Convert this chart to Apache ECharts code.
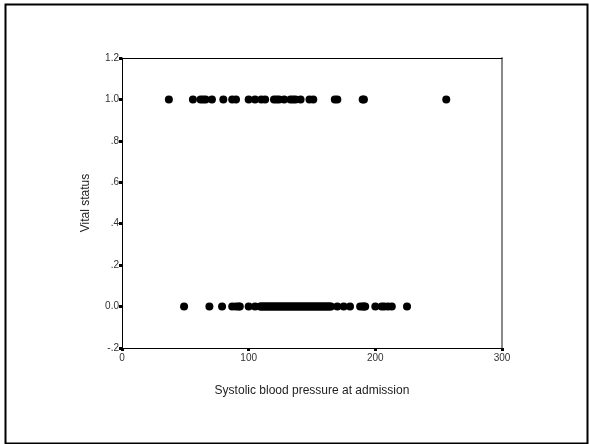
<!DOCTYPE html>
<html>
<head>
<meta charset="utf-8">
<script src="https://cdn.jsdelivr.net/npm/echarts@6/dist/echarts.min.js"></script>
<style>
html,body{margin:0;padding:0;background:#fff;}
#c{width:589px;height:444px;}
</style>
</head>
<body>
<div id="c"></div>
<script>
// Systolic blood pressure values for patients who died (vital status = 1)
var diedSBP = [37, 56, 62, 64, 66, 71, 80, 87, 90, 100, 105, 110, 113, 120, 122, 124, 128, 133, 135, 137, 141, 148, 151, 168, 170, 190, 191, 256];
// Systolic blood pressure values for patients alive (vital status = 0)
var aliveSBP = [49, 69, 79, 87, 90, 92, 93, 100, 105, 109, 110, 111, 112, 113, 114, 115, 116, 117, 118, 119, 120, 121, 122, 123, 124, 125, 126, 127, 128, 129, 130, 131, 132, 133, 134, 135, 136, 137, 138, 139, 140, 141, 142, 143, 144, 145, 146, 147, 148, 149, 150, 151, 152, 153, 154, 155, 156, 157, 158, 159, 160, 161, 162, 163, 164, 165, 170, 175, 180, 188, 190, 191, 192, 200, 205, 207, 210, 213, 225];
var diedStatus = 1;
var aliveStatus = 0;
var xTicks = [0, 100, 200, 300];
var yTickLabels = {"1.2": "1.2", "1": "1.0", "0.8": ".8", "0.6": ".6", "0.4": ".4", "0.2": ".2", "0": "0.0", "-0.2": "-.2"};

var pts = [];
diedSBP.forEach(function (v) { pts.push([v, diedStatus]); });
aliveSBP.forEach(function (v) { pts.push([v, aliveStatus]); });

var font = 'Liberation Sans, Arial, sans-serif';
var chart = echarts.init(document.getElementById('c'), null, {renderer: 'canvas'});
chart.setOption({
  animation: false,
  backgroundColor: '#fff',
  graphic: [{
    type: 'rect', left: 3, top: 2, shape: {width: 582, height: 439},
    style: {fill: 'none', stroke: '#000', lineWidth: 2}, silent: true
  }],
  grid: {left: 122, top: 58, width: 380, height: 290, containLabel: false},
  xAxis: [{
    type: 'value', min: xTicks[0], max: xTicks[xTicks.length - 1], interval: 100,
    name: 'Systolic blood pressure at admission', nameLocation: 'middle', nameGap: 37,
    nameTextStyle: {fontFamily: font, fontSize: 12, color: '#222'},
    axisLine: {show: true, onZero: false, lineStyle: {color: '#000', width: 1}},
    axisTick: {show: true, length: 3, lineStyle: {color: '#000', width: 3}},
    axisLabel: {fontFamily: font, fontSize: 10, color: '#333', margin: 5},
    splitLine: {show: false}
  }, {
    type: 'value', position: 'top', min: 0, max: 300,
    axisLine: {show: true, onZero: false, lineStyle: {color: '#000', width: 1}},
    axisTick: {show: false}, axisLabel: {show: false}, splitLine: {show: false}
  }],
  yAxis: [{
    type: 'value', min: -0.2, max: 1.2, interval: 0.2,
    name: 'Vital status', nameLocation: 'middle', nameGap: 30,
    nameTextStyle: {fontFamily: font, fontSize: 12, color: '#222'},
    axisLine: {show: true, onZero: false, lineStyle: {color: '#000', width: 1}},
    axisTick: {show: true, length: 3, lineStyle: {color: '#000', width: 3}},
    axisLabel: {
      fontFamily: font, fontSize: 10, color: '#333', margin: 3,
      formatter: function (v) { var k = String(Math.round(v * 10) / 10); return yTickLabels[k] !== undefined ? yTickLabels[k] : k; }
    },
    splitLine: {show: false}
  }, {
    type: 'value', position: 'right', min: -0.2, max: 1.2,
    axisLine: {show: true, onZero: false, lineStyle: {color: '#888', width: 2}},
    axisTick: {show: false}, axisLabel: {show: false}, splitLine: {show: false}
  }],
  series: [{
    type: 'scatter',
    data: pts,
    symbol: 'circle',
    symbolSize: 8,
    itemStyle: {color: '#000', opacity: 1}
  }]
});
</script>
</body>
</html>
